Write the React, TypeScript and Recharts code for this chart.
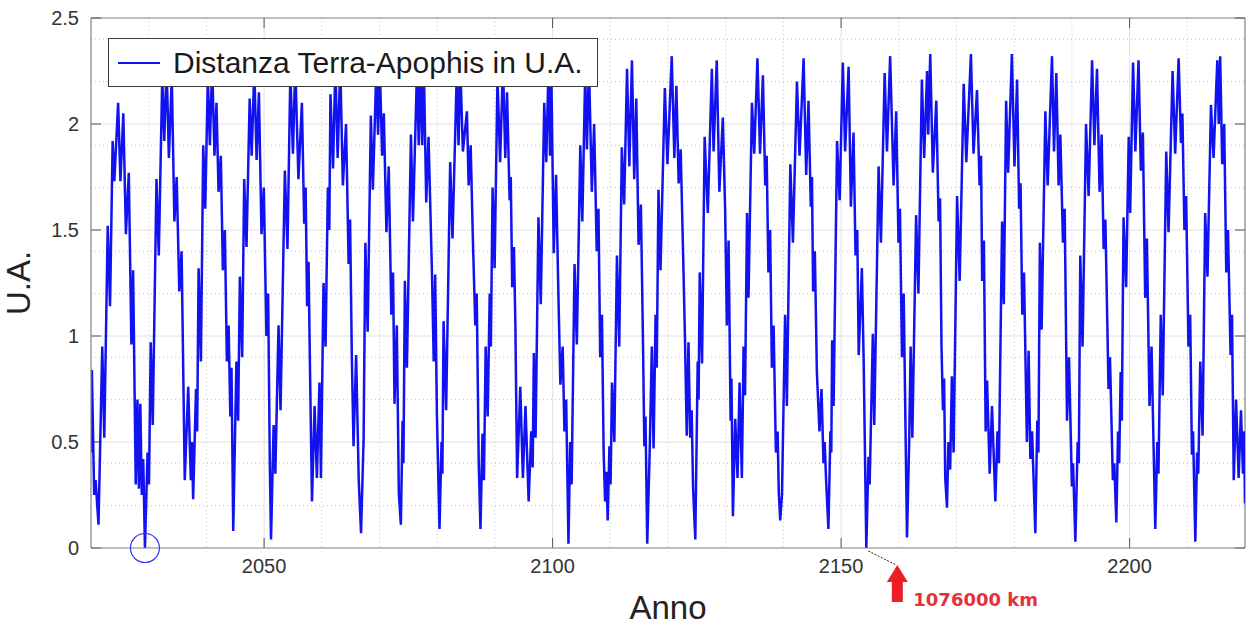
import React from "react";
import {
  LineChart,
  Line,
  XAxis,
  YAxis,
  CartesianGrid,
  ReferenceLine,
  ReferenceDot,
  Label,
} from "recharts";

type Pt = [number, number];

// [anno, distanza in U.A.], one block per stretch of years
const seg2020: Pt[] = [
  [2020.0, 0.45], [2020.15, 0.84], [2020.55, 0.25], [2020.8, 0.32], [2021.3, 0.11],
  [2021.95, 0.95], [2022.3, 0.52], [2022.9, 1.52], [2023.3, 1.14], [2023.75, 1.92], [2024.05, 1.73],
  [2024.7, 2.1], [2025.1, 1.73], [2025.6, 2.05], [2026.05, 1.48], [2026.55, 1.77], [2027.0, 0.96],
  [2027.3, 1.31], [2027.75, 0.3], [2028.05, 0.7], [2028.3, 0.28], [2028.55, 0.68], [2028.8, 0.25],
  [2029.05, 0.42], [2029.35, 0.0],
  [2029.8, 0.45], [2030.05, 0.3], [2030.35, 0.97], [2030.7, 0.58], [2031.35, 1.74], [2031.75, 1.38],
  [2032.35, 2.22], [2032.7, 1.92], [2033.1, 2.28], [2033.5, 1.84], [2034.0, 2.22], [2034.45, 1.54],
  [2034.85, 1.75], [2035.3, 1.21], [2035.7, 1.4], [2036.25, 0.32], [2036.85, 0.76], [2037.3, 0.32],
  [2037.5, 0.5], [2037.7, 0.23],
];

const seg2038: Pt[] = [
  [2038.2, 0.75], [2038.4, 0.55], [2038.65, 1.32], [2039.05, 0.88], [2039.45, 1.9], [2039.8, 1.6],
  [2040.25, 2.22], [2040.6, 1.9], [2041.0, 2.28], [2041.4, 1.85], [2041.75, 2.1], [2042.1, 1.68],
  [2042.5, 1.85], [2042.85, 1.31], [2043.2, 1.5], [2043.55, 0.88], [2043.85, 1.05], [2044.15, 0.62],
  [2044.35, 0.85], [2044.65, 0.08],
  [2045.2, 0.88], [2045.5, 0.6], [2045.8, 1.28], [2046.2, 0.9], [2046.55, 1.74], [2046.95, 1.42],
  [2047.5, 2.12], [2047.85, 1.85], [2048.3, 2.26], [2048.7, 1.83], [2049.1, 2.15], [2049.55, 1.48],
  [2049.95, 1.7], [2050.4, 1.0], [2050.7, 1.2], [2051.0, 0.38], [2051.2, 0.04],
  [2051.65, 0.58], [2051.95, 0.35], [2052.5, 1.05], [2052.85, 0.65], [2053.6, 1.78], [2054.05, 1.41],
  [2054.55, 2.24], [2055.0, 1.86], [2055.4, 2.28], [2055.95, 1.74], [2056.55, 2.1], [2056.95, 1.53],
  [2057.2, 1.7], [2057.45, 1.14], [2057.7, 1.35], [2057.95, 0.85], [2058.3, 0.22],
  [2058.75, 0.67], [2059.15, 0.33], [2059.6, 0.78], [2059.85, 0.33], [2060.3, 1.25], [2060.65, 0.95],
  [2061.05, 1.7], [2061.3, 1.5], [2061.5, 2.14], [2061.95, 1.79], [2062.35, 2.28], [2062.75, 1.84],
  [2063.2, 2.28], [2063.65, 1.71], [2064.2, 2.0], [2064.65, 1.34], [2064.9, 1.55], [2065.2, 0.91],
  [2065.5, 0.48], [2065.95, 0.91], [2066.4, 0.32], [2066.8, 0.07],
];

const seg2067: Pt[] = [
  [2067.25, 0.52], [2067.55, 1.44], [2067.95, 1.02], [2068.5, 2.04], [2068.85, 1.69], [2069.45, 2.26],
  [2069.75, 1.95], [2070.05, 2.28], [2070.45, 1.85], [2070.75, 2.05], [2071.2, 1.49], [2071.6, 1.8],
  [2072.05, 1.1], [2072.35, 1.3], [2072.6, 0.68], [2073.0, 1.05], [2073.35, 0.26], [2073.7, 0.11],
  [2074.0, 0.6], [2074.15, 0.4], [2074.4, 1.26], [2074.75, 0.85], [2075.45, 1.95], [2075.8, 1.54],
  [2076.5, 2.26], [2076.8, 1.9], [2077.1, 2.28], [2077.4, 1.9], [2077.7, 2.25], [2078.1, 1.63],
  [2078.5, 1.94], [2079.1, 1.29], [2079.4, 0.88], [2079.65, 1.29], [2079.95, 0.63], [2080.4, 0.09],
  [2080.75, 0.5], [2080.9, 0.35], [2081.1, 1.07], [2081.55, 0.65], [2082.25, 1.82], [2082.65, 1.46],
  [2083.4, 2.25], [2083.7, 1.9], [2084.0, 2.28], [2084.45, 1.87], [2085.15, 2.06], [2085.45, 1.71],
  [2085.8, 1.9], [2086.2, 1.44], [2086.6, 1.05], [2086.85, 1.2], [2087.2, 0.4], [2087.5, 0.09],
  [2087.85, 0.54], [2088.1, 0.32], [2088.4, 0.95], [2088.75, 0.62], [2089.1, 1.2], [2089.3, 0.95],
  [2089.6, 1.7], [2089.95, 1.32], [2090.45, 2.22], [2090.9, 1.82], [2091.4, 2.28], [2091.8, 1.84],
  [2092.1, 2.15], [2092.55, 1.64], [2092.75, 1.75], [2093.0, 1.23], [2093.3, 1.42], [2093.55, 1.05],
  [2093.85, 0.33], [2094.4, 0.76], [2094.85, 0.33], [2095.3, 0.67], [2095.85, 0.22],
];

const seg2096: Pt[] = [
  [2096.3, 0.55], [2096.55, 0.38], [2096.75, 0.92], [2097.05, 0.52], [2097.55, 1.56], [2097.95, 1.15],
  [2098.55, 2.1], [2098.9, 1.82], [2099.3, 2.28], [2099.55, 1.85], [2099.8, 2.2], [2100.2, 1.39],
  [2100.6, 1.76], [2101.0, 1.2], [2101.35, 0.77], [2101.75, 0.95], [2102.05, 0.55], [2102.35, 0.7],
  [2102.75, 0.02],
  [2103.05, 0.5], [2103.3, 0.3], [2103.8, 1.34], [2104.2, 0.96], [2104.8, 1.9], [2105.15, 1.54],
  [2105.65, 2.24], [2105.95, 1.88], [2106.3, 2.28], [2106.8, 1.68], [2107.2, 2.0], [2107.65, 1.4],
  [2107.95, 1.6], [2108.25, 0.9], [2108.55, 1.1], [2108.85, 0.45], [2109.1, 0.22], [2109.3, 0.36],
  [2109.55, 0.13],
  [2109.85, 0.48], [2110.05, 0.3], [2110.3, 0.78], [2110.7, 0.5], [2111.15, 1.38], [2111.55, 0.95],
  [2112.0, 1.89], [2112.4, 1.62], [2112.9, 2.26], [2113.3, 1.8], [2113.75, 2.3], [2114.15, 1.74],
  [2114.5, 2.12], [2114.9, 1.43], [2115.3, 1.62], [2115.65, 1.0], [2115.9, 0.48], [2116.1, 0.62],
  [2116.4, 0.02],
  [2116.85, 0.48], [2117.2, 0.95], [2117.5, 0.47], [2117.85, 1.1], [2118.05, 0.85], [2118.35, 1.69],
  [2118.7, 1.31], [2119.45, 2.17], [2119.9, 1.81], [2120.65, 2.32], [2121.1, 1.84], [2121.45, 2.18],
  [2121.85, 1.72], [2122.2, 1.88], [2122.65, 1.35], [2122.95, 0.98], [2123.25, 0.53], [2123.55, 0.97],
  [2123.85, 0.52], [2124.1, 0.65], [2124.35, 0.28], [2124.73, 0.04],
];

const seg2125: Pt[] = [
  [2125.15, 0.88], [2125.3, 0.7], [2125.5, 1.3], [2125.9, 0.87], [2126.35, 1.94], [2126.9, 1.58],
  [2127.6, 2.26], [2127.9, 1.87], [2128.45, 2.3], [2128.9, 1.68], [2129.5, 2.03], [2129.9, 1.6],
  [2130.2, 1.05], [2130.5, 1.45], [2130.85, 0.6], [2131.0, 0.8], [2131.25, 0.15],
  [2131.65, 0.61], [2132.05, 0.33], [2132.4, 0.78], [2132.8, 0.33], [2133.1, 0.95], [2133.35, 0.72],
  [2133.7, 1.58], [2133.95, 1.18], [2134.55, 2.1], [2134.95, 1.86], [2135.5, 2.31], [2135.95, 1.86],
  [2136.45, 2.23], [2136.85, 1.71], [2137.1, 1.85], [2137.4, 1.3], [2137.7, 1.5], [2138.0, 0.85],
  [2138.3, 1.05], [2138.7, 0.45], [2139.0, 0.55], [2139.2, 0.26], [2139.45, 0.13],
  [2139.75, 0.25], [2140.3, 1.1], [2140.6, 0.67], [2141.2, 1.81], [2141.65, 1.44], [2142.35, 2.2],
  [2142.8, 1.85], [2143.5, 2.31], [2143.95, 1.76], [2144.35, 2.11], [2144.75, 1.61], [2144.95, 1.75],
  [2145.15, 1.21], [2145.45, 1.4], [2145.8, 0.83], [2146.25, 0.55], [2146.6, 0.75], [2146.95, 0.4],
  [2147.15, 0.5], [2147.4, 0.32], [2147.8, 0.09],
  [2148.15, 0.55], [2148.3, 0.45], [2148.45, 0.98], [2148.7, 0.67], [2149.3, 1.92], [2149.75, 1.64],
  [2150.3, 2.29], [2150.7, 1.87], [2151.3, 2.27], [2151.7, 1.61], [2152.15, 1.96], [2152.5, 1.38],
  [2152.8, 1.5], [2153.05, 0.91], [2153.6, 1.32], [2153.9, 0.9], [2154.37, 0.0],
];

const seg2155: Pt[] = [
  [2154.75, 0.43], [2154.95, 0.3], [2155.5, 1.01], [2155.75, 0.58], [2156.5, 1.8], [2156.9, 1.44],
  [2157.55, 2.24], [2157.95, 1.87], [2158.5, 2.32], [2159.1, 1.71], [2159.55, 2.06], [2159.95, 1.44],
  [2160.2, 1.6], [2160.55, 0.9], [2160.85, 1.2], [2161.42, 0.05],
  [2161.8, 0.5], [2162.05, 0.95], [2162.35, 0.52], [2163.0, 1.57], [2163.4, 1.2], [2164.0, 2.21],
  [2164.4, 1.84], [2164.9, 2.25], [2165.1, 1.95], [2165.45, 2.33], [2165.9, 1.77], [2166.5, 2.11],
  [2166.9, 1.54], [2167.15, 1.65], [2167.4, 0.95], [2167.65, 0.65], [2167.85, 0.8], [2168.05, 0.33],
  [2168.35, 0.19],
  [2168.6, 0.5], [2168.9, 0.37], [2169.2, 0.81], [2169.5, 0.45], [2170.1, 1.66], [2170.55, 1.26],
  [2171.25, 2.19], [2171.7, 1.82], [2172.5, 2.33], [2172.95, 1.86], [2173.55, 2.16], [2174.0, 1.71],
  [2174.25, 1.85], [2174.45, 1.26], [2174.75, 1.45], [2175.05, 0.55], [2175.3, 0.79], [2175.75, 0.35],
  [2176.15, 0.67], [2176.73, 0.22],
  [2177.1, 0.55], [2177.35, 0.4], [2177.9, 1.54], [2178.2, 1.15], [2178.6, 2.11], [2178.95, 1.77],
  [2179.6, 2.33], [2180.05, 1.8], [2180.5, 2.21], [2180.85, 1.6], [2181.1, 1.72], [2181.4, 1.1],
  [2181.7, 1.3], [2182.2, 0.5], [2182.5, 0.93], [2182.8, 0.42], [2183.1, 0.55], [2183.66, 0.07],
];

const seg2184: Pt[] = [
  [2184.0, 0.6], [2184.2, 0.45], [2184.45, 1.44], [2184.75, 1.03], [2185.4, 2.06], [2185.8, 1.71],
  [2186.55, 2.32], [2186.9, 1.87], [2187.3, 2.24], [2187.7, 1.71], [2188.0, 1.95], [2188.45, 1.44],
  [2188.75, 1.6], [2189.15, 0.6], [2189.5, 0.9], [2190.0, 0.29], [2190.2, 0.4], [2190.6, 0.03],
  [2191.0, 0.5], [2191.2, 0.4], [2191.45, 1.38], [2191.85, 0.95], [2192.45, 2.0], [2192.9, 1.66],
  [2193.5, 2.3], [2193.9, 1.9], [2194.35, 2.26], [2194.8, 1.68], [2195.15, 1.95], [2195.5, 1.41],
  [2195.8, 1.55], [2196.35, 0.75], [2196.6, 0.9], [2197.1, 0.32], [2197.35, 0.4], [2197.7, 0.12],
  [2198.0, 0.55], [2198.2, 0.4], [2198.45, 0.83], [2198.65, 0.6], [2198.95, 1.56], [2199.4, 1.23],
  [2199.85, 1.94], [2200.1, 1.58], [2200.6, 2.29], [2201.0, 1.87], [2201.55, 2.3], [2201.95, 1.78],
  [2202.3, 1.96], [2202.7, 1.18], [2203.0, 1.46], [2203.45, 0.67], [2203.8, 0.95], [2204.45, 0.09],
  [2204.8, 0.5], [2205.0, 0.35], [2205.4, 1.1], [2205.75, 0.72], [2206.35, 1.87], [2206.75, 1.49],
  [2207.45, 2.25], [2207.9, 1.86], [2208.5, 2.31], [2208.9, 1.91], [2209.15, 2.05], [2209.5, 1.5],
  [2209.8, 1.66], [2210.2, 0.95], [2210.5, 1.1], [2210.8, 0.44], [2211.0, 0.55], [2211.39, 0.03],
  [2211.7, 0.45], [2211.9, 0.35], [2212.25, 0.88], [2212.65, 0.53], [2213.1, 1.58], [2213.5, 1.28],
  [2214.1, 2.09], [2214.55, 1.84], [2215.2, 2.3], [2215.45, 2.0], [2215.7, 2.32], [2216.05, 1.81],
  [2216.4, 2.0], [2216.75, 1.3], [2217.05, 1.5], [2217.5, 0.91], [2217.75, 1.1], [2218.05, 0.32],
  [2218.45, 0.7], [2218.9, 0.33], [2219.3, 0.65], [2219.65, 0.35], [2219.85, 0.55], [2220.0, 0.21],
];

const xTicks = [2050, 2100, 2150, 2200];
const yTicks = [0, 0.5, 1, 1.5, 2, 2.5];
const xMinor = [2030, 2040, 2060, 2070, 2080, 2090, 2110, 2120, 2130, 2140, 2160, 2170, 2180, 2190, 2210];
const yMinor = [0.1, 0.2, 0.3, 0.4, 0.6, 0.7, 0.8, 0.9, 1.1, 1.2, 1.3, 1.4, 1.6, 1.7, 1.8, 1.9, 2.1, 2.2, 2.3, 2.4];

const closeApproach = { year: 2029.35, d: 0 };
const farMinimum = { year: 2154.37, d: 0, label: "1076000 km" };

const seriesName = "Distanza Terra-Apophis in U.A.";

const rows = [seg2020, seg2038, seg2067, seg2096, seg2125, seg2155, seg2184]
  .flat()
  .map(([year, d]) => ({ year, d }));

const BLUE = "#1212f0";
const FONT = "'Liberation Sans', Arial, Helvetica, sans-serif";
const X0 = 2020;
const X1 = 2220;
const Y1 = 2.5;
// tick length ~10px expressed in data units (plot is 1154 x 530 px)
const TX = 10 / (1154 / 200);
const TY = 10 / (530 / 2.5);

const MinimumNote = (props: any) => {
  const { cx, cy } = props;
  const tx = cx + 31;
  const ty = cy + 17;
  return (
    <g>
      <line x1={cx + 2} y1={cy + 3} x2={tx - 1} y2={ty} stroke="#222" strokeWidth={1} strokeDasharray="2 1.5" />
      <polygon
        points={`${tx},${ty} ${tx + 10.5},${ty + 17} ${tx + 5.5},${ty + 17} ${tx + 5.5},${ty + 37} ${tx - 5.5},${ty + 37} ${tx - 5.5},${ty + 17} ${tx - 10.5},${ty + 17}`}
        fill="#ee1c25"
      />
      <text x={cx + 47} y={cy + 57.5} fill="#e2333b" fontFamily="'DejaVu Sans', sans-serif" fontWeight="bold" fontSize={18}>
        {farMinimum.label}
      </text>
    </g>
  );
};

const App: React.FC = () => {
  return (
    <div style={{ position: "absolute", left: 0, top: 0, width: 1249, height: 628, background: "#fff" }}>
      <LineChart width={1249} height={628} data={rows} margin={{ top: 18, right: 4, bottom: 0, left: 0 }}>
        <CartesianGrid verticalValues={xMinor} horizontalValues={yMinor} stroke="#c4c4c4" strokeDasharray="1 3" />
        <CartesianGrid verticalValues={xTicks} horizontalValues={[0.5, 1, 1.5, 2]} stroke="#e0e0e0" />
        <XAxis
          type="number"
          dataKey="year"
          domain={[X0, X1]}
          ticks={xTicks}
          allowDataOverflow
          height={80}
          tickLine={false}
          tickSize={0}
          tickMargin={11}
          axisLine={{ stroke: "#808080", strokeWidth: 1.2 }}
          tick={{ fill: "#333", fontSize: 20, fontFamily: FONT }}
        >
          <Label value="Anno" position="insideBottom" offset={9} style={{ fontSize: 33, fill: "#222", fontFamily: FONT }} />
        </XAxis>
        <YAxis
          type="number"
          domain={[0, Y1]}
          ticks={yTicks}
          allowDataOverflow
          width={91}
          tickLine={false}
          tickSize={0}
          tickMargin={12}
          tickFormatter={(v: number) => String(v)}
          axisLine={{ stroke: "#808080", strokeWidth: 1.2 }}
          tick={{ fill: "#333", fontSize: 20, fontFamily: FONT }}
        >
          <Label
            value="U.A."
            angle={-90}
            position="insideLeft"
            offset={30}
            dx={-12}
            style={{ fontSize: 33, fill: "#222", fontFamily: FONT, textAnchor: "middle" }}
          />
        </YAxis>
        <ReferenceLine y={Y1} stroke="#808080" strokeWidth={1.2} />
        <ReferenceLine x={X1} stroke="#808080" strokeWidth={1.2} />
        {xTicks.map((t) => (
          <ReferenceLine key={"b" + t} segment={[{ x: t, y: 0 }, { x: t, y: TY }]} stroke="#555" />
        ))}
        {xTicks.map((t) => (
          <ReferenceLine key={"t" + t} segment={[{ x: t, y: Y1 }, { x: t, y: Y1 - TY }]} stroke="#555" />
        ))}
        {yTicks.map((v) => (
          <ReferenceLine key={"l" + v} segment={[{ x: X0, y: v }, { x: X0 + TX, y: v }]} stroke="#555" />
        ))}
        {yTicks.map((v) => (
          <ReferenceLine key={"r" + v} segment={[{ x: X1, y: v }, { x: X1 - TX, y: v }]} stroke="#555" />
        ))}
        <Line
          type="linear"
          dataKey="d"
          name={seriesName}
          stroke={BLUE}
          strokeWidth={2.5}
          dot={false}
          isAnimationActive={false}
        />
        <ReferenceDot
          x={closeApproach.year}
          y={closeApproach.d}
          r={14.5}
          fill="none"
          stroke="#3535ff"
          strokeWidth={1.2}
          ifOverflow="visible"
        />
        <ReferenceDot x={farMinimum.year} y={farMinimum.d} ifOverflow="visible" shape={MinimumNote} />
      </LineChart>
      <div
        style={{
          position: "absolute",
          left: 108,
          top: 38,
          width: 490,
          height: 49,
          boxSizing: "border-box",
          background: "#fff",
          border: "1px solid #3a3a3a",
          display: "flex",
          alignItems: "center",
          fontFamily: FONT,
          fontSize: 30,
          color: "#1a1a1a",
        }}
      >
        <div style={{ width: 42, height: 2, background: BLUE, marginLeft: 9, marginRight: 13 }} />
        <span>{seriesName}</span>
      </div>
    </div>
  );
};

export default App;
